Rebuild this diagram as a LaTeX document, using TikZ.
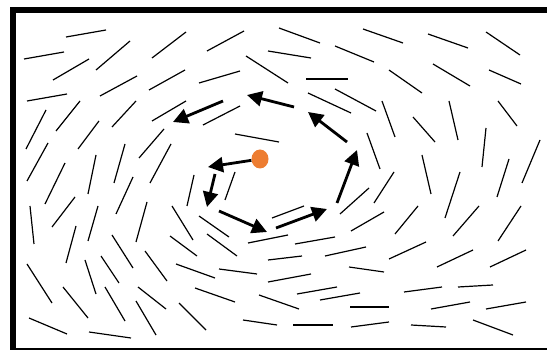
\documentclass[tikz,border=0pt]{standalone}
\usetikzlibrary{arrows.meta,shapes.geometric}
\definecolor{dotorange}{HTML}{ED7D31}

\begin{document}
\begin{tikzpicture}[
    x=1pt, y=-1pt,
    director/.style={line width=1.2pt},
    flow/.style={line width=2.8pt, -{Triangle[length=15pt,width=15pt]}},
    core/.style={ellipse, fill=dotorange, minimum width=17pt, minimum height=19pt, inner sep=0pt}
  ]
  \useasboundingbox (0,0) rectangle (547,350);
  \clip (0,0) rectangle (547,350);

  % frame (right side runs off the page)
  \draw[line width=6pt] (13,10) rectangle (562,351);

  % director field
  \foreach \xa/\ya/\xb/\yb in {
      66/37/106/30, 24/59/64/52, 96/70/130/41, 152/58/186/32, 207/51/244/31,
      53/80/89/59, 100/96/137/76, 149/90/185/70, 199/83/240/71, 246/56/288/83,
      27/101/67/94, 26/149/46/110, 56/131/80/101, 112/127/136/101, 152/121/186/101,
      203/125/240/106, 235/134/279/142, 78/149/99/121, 139/158/164/129,
      27/181/48/143, 45/204/65/163, 88/194/96/155, 114/183/125/144, 150/183/171/144,
      187/206/194/175, 225/200/235/172, 30/206/34/244, 52/227/75/197, 88/241/98/206,
      116/214/133/177, 136/242/147/202, 172/206/193/240, 199/216/229/237,
      170/236/197/256, 207/234/237/256, 248/243/288/235, 27/264/52/303,
      66/263/76/226, 85/260/96/294, 101/256/119/283, 112/235/133/268,
      145/251/167/281, 176/264/215/278, 219/269/257/274, 268/260/302/256,
      268/282/311/274, 63/287/88/318, 105/287/125/321, 138/287/166/309,
      136/301/156/335, 179/303/206/330, 195/288/235/302, 259/295/299/309,
      29/318/67/334, 89/332/131/338, 243/320/277/325,
      340/214/369/188, 374/203/394/172, 422/155/431/194, 445/218/460/172,
      497/197/509/159, 522/183/540/140, 482/167/486/128, 272/218/304/206,
      351/231/384/212, 395/234/418/206, 453/236/479/206, 498/241/521/206,
      295/244/335/237, 325/256/366/247, 389/259/426/242, 437/267/473/250,
      490/267/526/250, 349/267/384/272, 297/294/337/287, 320/300/360/293,
      404/292/442/287, 458/287/493/285, 350/307/389/307, 431/309/470/302,
      486/309/526/302, 293/325/333/325, 351/327/389/322, 411/325/446/327,
      473/320/513/335,
      279/28/320/43, 268/51/311/58, 363/29/403/43, 428/34/468/48, 486/32/520/55,
      335/46/374/62, 306/79/348/79, 389/70/422/93, 433/64/470/86, 489/70/521/84,
      308/93/351/113, 335/89/376/111, 382/101/395/137, 413/117/435/142,
      449/101/458/140, 498/101/517/126, 367/133/380/169}
    \draw[director] (\xa,\ya) -- (\xb,\yb);

  % spiral path
  \node[core] (ctr) at (260,159) {};
  \coordinate (e1) at (208,167);
  \coordinate (s2) at (215,174);  \coordinate (e2) at (207,207);
  \coordinate (s3) at (219,211);  \coordinate (e3) at (267,232);
  \coordinate (s4) at (276,228);  \coordinate (e4) at (327,209);
  \coordinate (s5) at (337,203);  \coordinate (e5) at (357,150);
  \coordinate (s6) at (347,142);  \coordinate (e6) at (308,112);
  \coordinate (s7) at (294,107);  \coordinate (e7) at (247,95);
  \coordinate (s8) at (223,101);  \coordinate (e8) at (173,122);

  \draw[flow] (ctr) -- (e1);
  \foreach \i in {2,...,8}
    \draw[flow] (s\i) -- (e\i);
\end{tikzpicture}
\end{document}
